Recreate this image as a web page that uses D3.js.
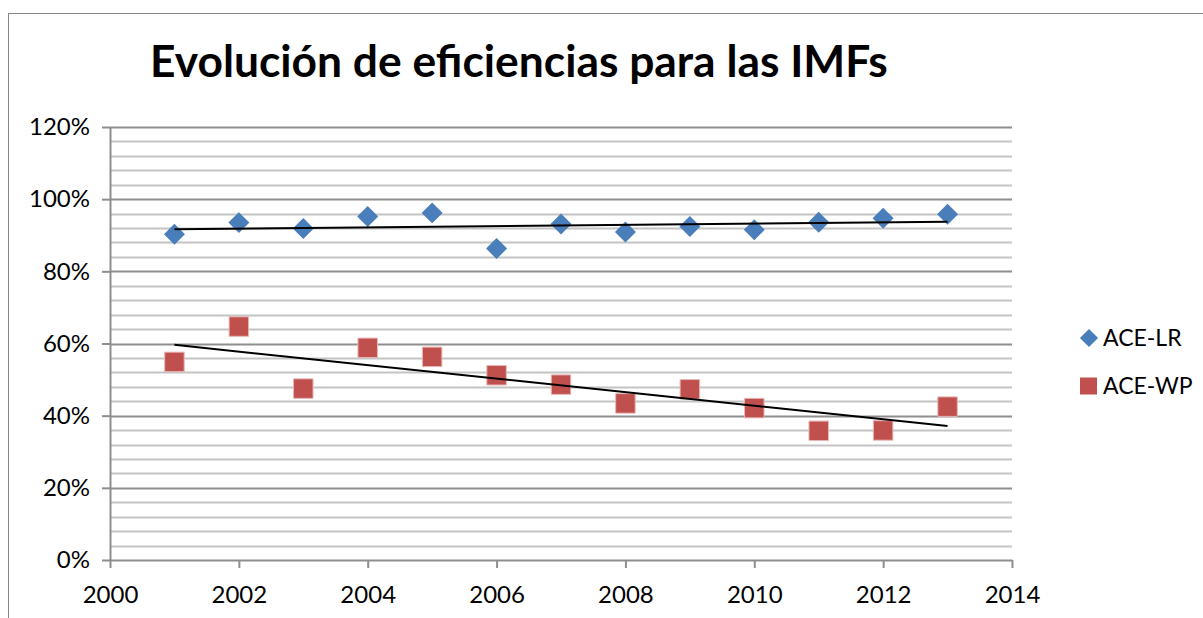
<!DOCTYPE html>
<html lang="es">
<head>
    <meta charset="UTF-8">
    <title>Evolución de eficiencias para las IMFs</title>
    <script src="https://d3js.org/d3.v7.min.js"></script>
    <style>
        body { margin: 0; background: white; }
        svg { display: block; }
        text { font-family: Lato, "Open Sans", sans-serif; fill: black; }
    </style>
</head>
<body>
    <svg width="1203" height="618"></svg>

    <script>
        // data
        const years = [2001, 2002, 2003, 2004, 2005, 2006, 2007, 2008, 2009, 2010, 2011, 2012, 2013];
        const aceLR = [0.903, 0.935, 0.919, 0.952, 0.962, 0.863, 0.931, 0.909, 0.924, 0.915, 0.936, 0.947, 0.958];
        const aceWP = [0.549, 0.647, 0.475, 0.588, 0.563, 0.512, 0.486, 0.434, 0.473, 0.421, 0.358, 0.359, 0.425];
        const seriesNames = ["ACE-LR", "ACE-WP"];
        const xTicks = [2000, 2002, 2004, 2006, 2008, 2010, 2012, 2014];
        const yTicks = [0, 0.2, 0.4, 0.6, 0.8, 1.0, 1.2];
        const title = "Evolución de eficiencias para las IMFs";

        const svg = d3.select("svg");
        const plotLeft = 110, plotRight = 1012, plotTop = 127, plotBottom = 560;

        let x = d3.scaleLinear().domain([2000, 2014]).range([plotLeft, plotRight]);
        let y = d3.scaleLinear().domain([0, 1.2]).range([plotBottom, plotTop]);

        // chart frame (runs off the picture on right/bottom)
        svg.append("rect")
            .attr("x", 8.5).attr("y", 13.5)
            .attr("width", 1400).attr("height", 800)
            .attr("fill", "white").attr("stroke", "#878787");

        // minor gridlines every 4%
        let minor = d3.range(0, 1.2001, 0.04).filter(v => Math.abs(v / 0.2 - Math.round(v / 0.2)) > 1e-6);
        svg.append("g").selectAll("line").data(minor).enter().append("line")
            .attr("x1", plotLeft).attr("x2", plotRight)
            .attr("y1", d => Math.round(y(d)) + 0.5).attr("y2", d => Math.round(y(d)) + 0.5)
            .attr("stroke", "#c4c4c4").attr("stroke-width", 2);

        // major gridlines
        svg.append("g").selectAll("line").data(yTicks.slice(1)).enter().append("line")
            .attr("x1", plotLeft).attr("x2", plotRight)
            .attr("y1", d => Math.round(y(d)) + 0.5).attr("y2", d => Math.round(y(d)) + 0.5)
            .attr("stroke", "#8e8e8e").attr("stroke-width", 2);

        // y axis
        let yAxis = svg.append("g")
            .attr("transform", `translate(${plotLeft},0)`)
            .call(d3.axisLeft(y).tickValues(yTicks).tickFormat(d3.format(".0%"))
                .tickSizeInner(8).tickSizeOuter(0).tickPadding(12));
        yAxis.select(".domain").attr("stroke", "#8e8e8e").attr("stroke-width", 2);
        yAxis.selectAll(".tick line").attr("stroke", "#8e8e8e").attr("stroke-width", 2);
        yAxis.selectAll("text").attr("font-size", 24).attr("font-family", "Lato").attr("fill", "black");

        // x axis
        let xAxis = svg.append("g")
            .attr("transform", `translate(0,${plotBottom})`)
            .call(d3.axisBottom(x).tickValues(xTicks).tickFormat(d3.format("d"))
                .tickSizeInner(8).tickSizeOuter(0).tickPadding(18));
        xAxis.select(".domain").attr("stroke", "#8e8e8e").attr("stroke-width", 2);
        xAxis.selectAll(".tick line").attr("stroke", "#8e8e8e").attr("stroke-width", 2);
        xAxis.selectAll("text").attr("font-size", 24).attr("font-family", "Lato").attr("fill", "black");

        // linear trendlines
        function trend(vals) {
            let mx = d3.mean(years), mv = d3.mean(vals);
            let num = d3.sum(years, (yr, i) => (yr - mx) * (vals[i] - mv));
            let den = d3.sum(years, yr => (yr - mx) * (yr - mx));
            let b = num / den, a = mv - b * mx;
            let ends = [years[0], years[years.length - 1]];
            return ends.map(yr => [yr, a + b * yr]);
        }
        let line = d3.line().x(d => x(d[0])).y(d => y(d[1]));

        const diamond = d3.symbol().type(d3.symbolSquare).size(220);
        const square = d3.symbol().type(d3.symbolSquare).size(380);

        // ACE-LR diamonds
        svg.append("g").selectAll("path").data(years).enter().append("path")
            .attr("d", diamond)
            .attr("transform", (d, i) => `translate(${x(d)},${y(aceLR[i])}) rotate(45)`)
            .attr("fill", "#4a7ebb");

        // ACE-WP squares
        svg.append("g").selectAll("path").data(years).enter().append("path")
            .attr("d", square)
            .attr("transform", (d, i) => `translate(${x(d)},${y(aceWP[i])})`)
            .attr("fill", "#c0504d").attr("stroke", "#e8b8b6").attr("stroke-width", 1);

        [aceLR, aceWP].forEach(vals => {
            svg.append("path").datum(trend(vals))
                .attr("d", line)
                .attr("fill", "none").attr("stroke", "black").attr("stroke-width", 2);
        });

        // legend
        let legend = svg.append("g");
        legend.append("path")
            .attr("d", d3.symbol().type(d3.symbolSquare).size(165))
            .attr("transform", "translate(1089,338) rotate(45)")
            .attr("fill", "#4a7ebb");
        legend.append("path")
            .attr("d", d3.symbol().type(d3.symbolSquare).size(289))
            .attr("transform", "translate(1088.5,386)")
            .attr("fill", "#c0504d");
        legend.selectAll("text").data(seriesNames).enter().append("text")
            .attr("x", 1103).attr("y", (d, i) => 346 + i * 48)
            .attr("font-size", 23)
            .text(d => d);

        // title, sized to span the same width as the picture
        let t = svg.append("text")
            .attr("x", 150).attr("y", 77)
            .attr("font-weight", "bold").attr("font-size", 40)
            .text(title);
        let w = t.node().getComputedTextLength();
        t.attr("font-size", 40 * 738 / w);
    </script>
</body>
</html>
